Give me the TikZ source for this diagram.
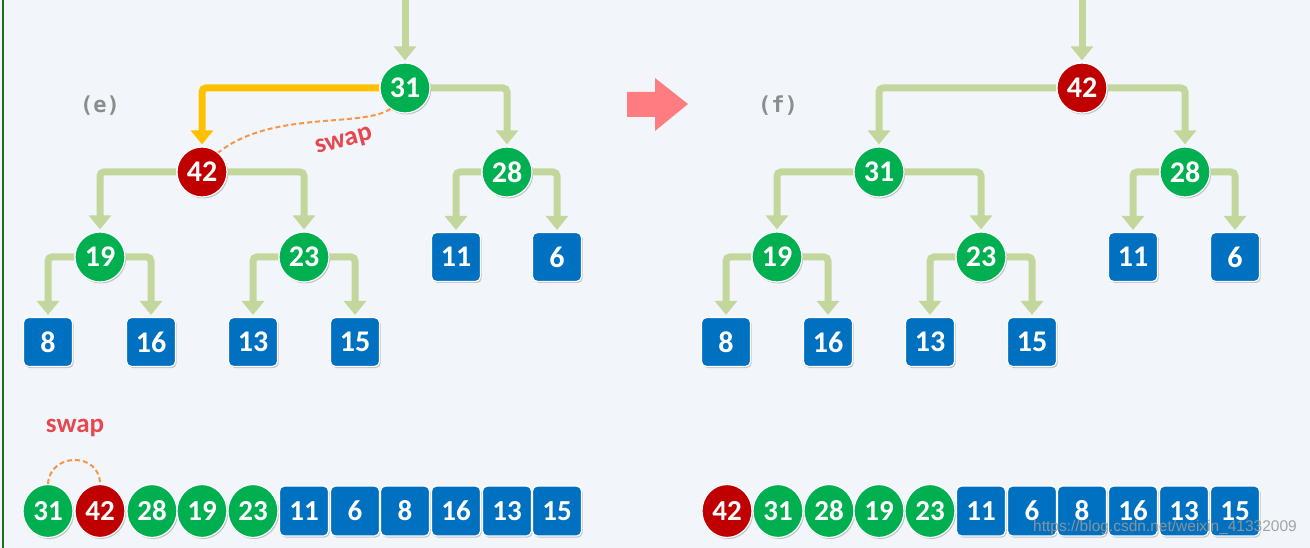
\documentclass[tikz,border=0pt]{standalone}
\usepackage{fontspec}
\setmainfont{Carlito}
\newfontfamily\monof{DejaVu Sans Mono}
\newfontfamily\wmf{Liberation Sans}
\usetikzlibrary{arrows.meta,shapes.geometric,shadows}
\definecolor{bgc}{HTML}{F2F6FB}
\definecolor{cgreen}{HTML}{00B050}
\definecolor{cred}{HTML}{C00000}
\definecolor{cblue}{HTML}{0070C0}
\definecolor{cline}{HTML}{C3D69B}
\definecolor{cyel}{HTML}{FFC000}
\definecolor{corange}{HTML}{F79646}
\definecolor{cswap}{HTML}{E5484F}
\definecolor{cpink}{HTML}{FF7C80}
\definecolor{cborder}{HTML}{1F6B1F}
\pgfdeclarelayer{bg}
\pgfsetlayers{bg,main}
\tikzset{
  numfont/.style={font=\fontsize{30}{30}\selectfont\bfseries, text=white},
  arrfont/.style={font=\fontsize{29}{29}\selectfont\bfseries, text=white},
  shad/.style={drop shadow={shadow xshift=1.2pt, shadow yshift=-1.5pt, opacity=0.35, fill=black!60}},
  gc/.style={circle, fill=cgreen, draw=white, line width=1.2pt, minimum size=50pt, inner sep=0pt, numfont, shad},
  rc/.style={gc, fill=cred},
  bs/.style={rectangle, rounded corners=5pt, fill=cblue, draw=white, line width=1.2pt, minimum width=49pt, minimum height=49pt, inner sep=0pt, numfont, shad},
  ge/.style={ellipse, fill=cgreen, draw=white, line width=1.2pt, minimum width=50pt, minimum height=53pt, inner sep=0pt, arrfont, shad},
  re/.style={ge, fill=cred},
  ab/.style={bs, minimum height=50pt, arrfont},
  conn/.style={draw=cline, line width=7pt, rounded corners=4pt, -{Triangle[width=22pt,length=14pt]}, shorten >=2pt},
  yconn/.style={conn, draw=cyel, -{Triangle[width=22pt,length=14pt]}},
  swapdash/.style={draw=corange, line width=2pt, dash pattern=on 5pt off 3pt},
  swaplbl/.style={font=\fontsize{27}{27}\selectfont\bfseries, text=cswap},
  caplbl/.style={font=\monof\fontsize{22}{22}\selectfont\bfseries, text=black!45},
}
\begin{document}
\begin{tikzpicture}[x=1pt,y=-1pt]
\begin{pgfonlayer}{bg}
\fill[bgc] (0,0) rectangle (1310,548);
\end{pgfonlayer}
\useasboundingbox (0,0) rectangle (1310,548);
\draw[cborder, line width=2.5pt] (3,0) -- (3,548);

% ---------- tree (e) ----------
\node[gc] (e31) at (405,88) {31};
\node[rc] (e42) at (202,172) {42};
\node[gc] (e28) at (507,172) {28};
\node[gc] (e19) at (100,257) {19};
\node[gc] (e23) at (304,257) {23};
\node[bs] (e11) at (456,257) {11};
\node[bs] (e6) at (557,257) {6};
\node[bs] (e8) at (48,342) {8};
\node[bs] (e16) at (151,342) {16};
\node[bs] (e13) at (253,342) {13};
\node[bs] (e15) at (355,342) {15};
\coordinate (etop) at (405,0);
\node[caplbl] (ecap) at (100,106) {(e)};

% ---------- tree (f) ----------
\node[rc] (f42) at (1082,88) {42};
\node[gc] (f31) at (879,172) {31};
\node[gc] (f28) at (1185,172) {28};
\node[gc] (f19) at (777,257) {19};
\node[gc] (f23) at (981,257) {23};
\node[bs] (f11) at (1133,257) {11};
\node[bs] (f6) at (1235,257) {6};
\node[bs] (f8) at (726,342) {8};
\node[bs] (f16) at (828,342) {16};
\node[bs] (f13) at (930,342) {13};
\node[bs] (f15) at (1032,342) {15};
\coordinate (ftop) at (1082,0);
\node[caplbl] (fcap) at (778,106) {(f)};

% ---------- pink arrow ----------
\fill[cpink] (627,92) -- (655,92) -- (655,78) -- (688,104) -- (655,131) -- (655,117) -- (627,117) -- cycle;

% ---------- array (e) ----------
\node[ge] (a1) at (48,511) {31};
\node[re] (a2) at (100,511) {42};
\node[ge] (a3) at (152,511) {28};
\node[ge] (a4) at (202,511) {19};
\node[ge] (a5) at (253,511) {23};
\node[ab] (a6) at (304,511) {11};
\node[ab] (a7) at (355,511) {6};
\node[ab] (a8) at (405,511) {8};
\node[ab] (a9) at (456,511) {16};
\node[ab] (a10) at (507,511) {13};
\node[ab] (a11) at (557,511) {15};

% ---------- array (f) ----------
\node[re] (b1) at (727,511) {42};
\node[ge] (b2) at (778,511) {31};
\node[ge] (b3) at (829,511) {28};
\node[ge] (b4) at (879,511) {19};
\node[ge] (b5) at (930,511) {23};
\node[ab] (b6) at (981,511) {11};
\node[ab] (b7) at (1032,511) {6};
\node[ab] (b8) at (1082,511) {8};
\node[ab] (b9) at (1133,511) {16};
\node[ab] (b10) at (1184,511) {13};
\node[ab] (b11) at (1235,511) {15};

% ---------- connectors ----------
\begin{pgfonlayer}{bg}
\draw[conn] (etop) -- (e31);
\draw[yconn] (e31.west) -| (e42.north);
\draw[conn] (e31.east) -| (e28.north);
\draw[conn] (e42.west) -| (e19.north);
\draw[conn] (e42.east) -| (e23.north);
\draw[conn] (e28.west) -| (e11.north);
\draw[conn] (e28.east) -| (e6.north);
\draw[conn] (e19.west) -| (e8.north);
\draw[conn] (e19.east) -| (e16.north);
\draw[conn] (e23.west) -| (e13.north);
\draw[conn] (e23.east) -| (e15.north);

\draw[conn] (ftop) -- (f42);
\draw[conn] (f42.west) -| (f31.north);
\draw[conn] (f42.east) -| (f28.north);
\draw[conn] (f31.west) -| (f19.north);
\draw[conn] (f31.east) -| (f23.north);
\draw[conn] (f28.west) -| (f11.north);
\draw[conn] (f28.east) -| (f6.north);
\draw[conn] (f19.west) -| (f8.north);
\draw[conn] (f19.east) -| (f16.north);
\draw[conn] (f23.west) -| (f13.north);
\draw[conn] (f23.east) -| (f15.north);
\end{pgfonlayer}

% ---------- swap marks ----------
\draw[swapdash] (e31.235) .. controls (362,128) and (272,110) .. (e42.50);
\node[swaplbl, rotate=15] (sw1) at (344,142) {swap};
\draw[swapdash] (a1.north) .. controls (50,452) and (100,452) .. (a2.north);
\node[swaplbl] (sw2) at (75,428) {swap};

% ---------- watermark ----------
\node[font=\wmf\fontsize{15.5}{15.5}\selectfont, text=black!40, opacity=0.9] (wm) at (1165,527) {https://blog.csdn.net/weixin\_41332009};
\end{tikzpicture}
\end{document}
